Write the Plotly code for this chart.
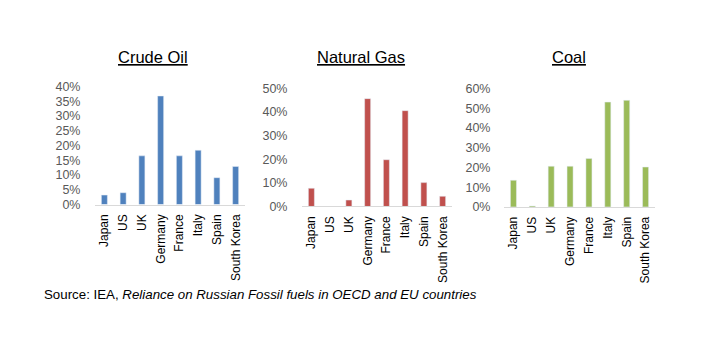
import plotly.graph_objects as go

countries = ["Japan", "US", "UK", "Germany", "France", "Italy", "Spain", "South Korea"]
crude_oil = [0.032, 0.040, 0.165, 0.368, 0.165, 0.184, 0.091, 0.129]
natural_gas = [0.077, 0.0, 0.027, 0.457, 0.198, 0.406, 0.101, 0.043]
coal = [0.135, 0.005, 0.206, 0.206, 0.245, 0.531, 0.540, 0.202]

titles = ["Crude Oil", "Natural Gas", "Coal"]
colors = ["#4F81BD", "#C0504D", "#9BBB59"]
y_max = [0.40, 0.50, 0.60]
y_step = [0.05, 0.10, 0.10]
source = "Source: IEA, <i>Reliance on Russian Fossil fuels in OECD and EU countries</i>"

W, H = 705, 340
FONT = "Arial, Liberation Sans, sans-serif"

# layout in pixels: (left, right, top, bottom)
boxes = [(95, 245, 83, 206), (302, 452, 85, 208), (504, 655, 85, 208.5)]
title_x = [153, 361, 569]
title_y = 52
label_gap = [11, 11, 10]

fig = go.Figure()
series = [crude_oil, natural_gas, coal]
for i in range(3):
    ax = "" if i == 0 else str(i + 1)
    fig.add_trace(go.Bar(
        x=countries, y=series[i], marker_color=colors[i],
        xaxis="x" + ax, yaxis="y" + ax, showlegend=False,
    ))
    l, r, t, b = boxes[i]
    n = int(round(y_max[i] / y_step[i]))
    tv = [k * y_step[i] for k in range(n + 1)]
    fig.layout["xaxis" + ax] = dict(
        domain=[l / W, r / W], anchor="y" + ax,
        showline=True, linecolor="#D9D9D9", linewidth=1,
        showgrid=False, zeroline=False, tickangle=-90,
        tickfont=dict(family=FONT, size=12, color="#000000"),
        ticks="outside", ticklen=4, tickcolor="rgba(0,0,0,0)",
        fixedrange=True,
    )
    fig.layout["yaxis" + ax] = dict(
        domain=[1 - b / H, 1 - t / H], anchor="x" + ax,
        range=[0, y_max[i]], tickvals=tv, tickformat=".0%",
        showgrid=False, zeroline=False, showline=False,
        tickfont=dict(family=FONT, size=12.5, color="#595959"),
        ticks="outside", ticklen=label_gap[i], tickcolor="rgba(0,0,0,0)",
        fixedrange=True,
    )
    fig.add_annotation(
        text="<u>" + titles[i] + "</u>", x=title_x[i] / W, y=1 - title_y / H,
        xref="paper", yref="paper", xanchor="center", yanchor="middle",
        showarrow=False, font=dict(family=FONT, size=16.5, color="#000000"),
    )

fig.add_annotation(
    text=source, x=42 / W, y=1 - 300 / H, xref="paper", yref="paper",
    xanchor="left", yanchor="middle", showarrow=False,
    font=dict(family=FONT, size=13.3, color="#000000"),
)

fig.update_layout(
    width=W, height=H, margin=dict(l=0, r=0, t=0, b=0),
    paper_bgcolor="white", plot_bgcolor="white", bargap=0.68,
    font=dict(family=FONT),
)

fig.write_html("out.html", config={"displayModeBar": False})
